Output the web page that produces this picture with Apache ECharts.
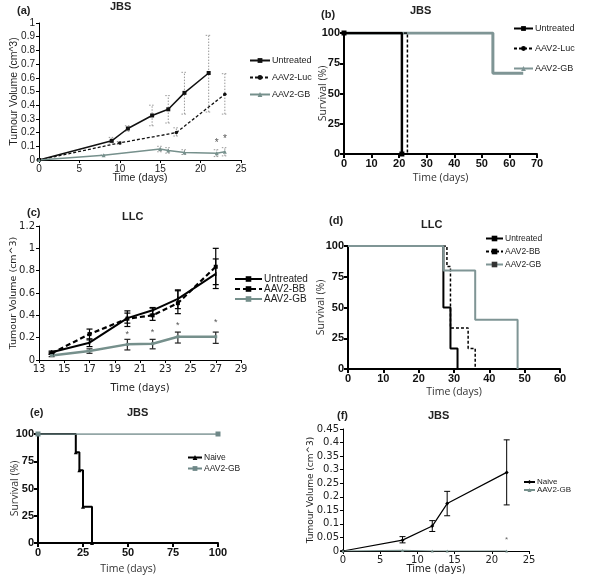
<!DOCTYPE html>
<html><head><meta charset="utf-8">
<script src="https://cdn.jsdelivr.net/npm/echarts@6/dist/echarts.min.js"></script>
<style>html,body{margin:0;padding:0;background:#fff}#c{width:600px;height:577px}</style>
</head><body><div id="c"></div><script>
// ---------- Panel (a) JBS tumour volume ----------
const aUntreatedX = [0, 9, 11, 14, 16, 18, 21];
const aUntreatedY = [0, 0.14, 0.23, 0.325, 0.37, 0.49, 0.635];
const aUntreatedLo = [0, 0.125, 0.21, 0.25, 0.27, 0.335, 0.35];
const aUntreatedHi = [0, 0.165, 0.25, 0.40, 0.47, 0.64, 0.91];
const aLucX = [0, 10, 17, 23];
const aLucY = [0, 0.125, 0.20, 0.48];
const aLucLo = [0, 0.115, 0.175, 0.335];
const aLucHi = [0, 0.135, 0.235, 0.63];
const aGbX = [0, 8, 15, 16, 18, 22, 23];
const aGbY = [0, 0.035, 0.08, 0.07, 0.055, 0.05, 0.06];
const aGbLo = [0, 0.035, 0.06, 0.05, 0.04, 0.025, 0.03];
const aGbHi = [0, 0.035, 0.10, 0.09, 0.075, 0.075, 0.09];
const aStarX = [22, 23];
const aStarY = [0.12, 0.155];

// ---------- Panel (b) JBS survival ----------
const bUntreatedX = [0, 21];
const bUntreatedY = [100, 0];
const bLucX = [0, 23];
const bLucY = [100, 0];
const bGbX = [0, 54, 65];
const bGbY = [100, 66.7, 66.7];

// ---------- Panel (c) LLC tumour volume ----------
const cX = [14, 17, 20, 22, 24, 27];
const cUntreated = [0.07, 0.155, 0.375, 0.445, 0.548, 0.771];
const cUntreatedLo = [0.06, 0.12, 0.30, 0.41, 0.46, 0.64];
const cUntreatedHi = [0.08, 0.19, 0.44, 0.47, 0.62, 1.0];
const cBB = [0.06, 0.232, 0.37, 0.40, 0.509, 0.835];
const cBBLo = [0.05, 0.18, 0.33, 0.355, 0.415, 0.675];
const cBBHi = [0.07, 0.277, 0.42, 0.465, 0.628, 0.905];
const cGB = [0.04, 0.08, 0.14, 0.146, 0.208, 0.208];
const cGBLo = [0.03, 0.06, 0.09, 0.10, 0.152, 0.149];
const cGBHi = [0.05, 0.10, 0.185, 0.185, 0.25, 0.25];
const cStarX = [20, 22, 24, 27];
const cStarY = [0.232, 0.247, 0.31, 0.336];

// ---------- Panel (d) LLC survival ----------
const dUntreatedX = [0, 27, 29, 31];
const dUntreatedY = [100, 50, 16.7, 0];
const dBBX = [0, 28, 29, 34, 36];
const dBBY = [100, 83.3, 33.3, 16.7, 0];
const dGbX = [0, 27, 36, 48];
const dGbY = [100, 80, 40, 0];

// ---------- Panel (e) JBS survival ----------
const eNaiveX = [0, 21, 23, 25, 30];
const eNaiveY = [100, 83.3, 66.7, 33.3, 0];
const eGbX = [0, 100];
const eGbY = [100, 100];

// ---------- Panel (f) JBS tumour volume ----------
const fX = [0, 8, 12, 14, 22];
const fNaive = [0, 0.04, 0.092, 0.175, 0.29];
const fNaiveLo = [0, 0.03, 0.072, 0.13, 0.17];
const fNaiveHi = [0, 0.053, 0.112, 0.22, 0.41];
const fGb = [0, 0.002, 0, 0, 0];
const fStarX = [22];
const fStarY = [0.043];

const GREY = '#76908c';
const SANS = 'Liberation Sans';
const DJ = 'DejaVu Sans';
const TICK = 'path://M0,0h2v12h-2z';

function pts(xs, ys) { return xs.map((x, i) => [x, ys[i]]); }

function line(name, gi, xs, ys, o) {
  return Object.assign({
    type: 'line', name: name, xAxisIndex: gi, yAxisIndex: gi,
    data: pts(xs, ys), animation: false, z: 3
  }, o);
}
function errorBars(gi, xs, lo, hi, color, dash, cap, w) {
  return {
    type: 'custom', xAxisIndex: gi, yAxisIndex: gi, silent: true, z: 2,
    data: xs.map((x, i) => [x, lo[i], hi[i]]),
    renderItem: function (p, api) {
      const x = api.value(0);
      const a = api.coord([x, api.value(1)]);
      const b = api.coord([x, api.value(2)]);
      const st = { stroke: color, lineWidth: w || 1, lineDash: dash || null, fill: null };
      return { type: 'group', children: [
        { type: 'line', shape: { x1: a[0], y1: a[1], x2: b[0], y2: b[1] }, style: st },
        { type: 'line', shape: { x1: a[0] - cap, y1: a[1], x2: a[0] + cap, y2: a[1] }, style: st },
        { type: 'line', shape: { x1: b[0] - cap, y1: b[1], x2: b[0] + cap, y2: b[1] }, style: st }
      ] };
    }
  };
}
function stars(gi, xs, ys, color, size) {
  return {
    type: 'custom', xAxisIndex: gi, yAxisIndex: gi, silent: true, z: 4,
    data: pts(xs, ys),
    renderItem: function (p, api) {
      const c = api.coord([api.value(0), api.value(1)]);
      return { type: 'text', x: c[0], y: c[1], style: { text: '*', fill: color, font: size + 'px ' + SANS, align: 'center', verticalAlign: 'middle' } };
    }
  };
}

function excelAxis(gi, min, max, interval, family, fs, name, gap, nfs) {
  return {
    type: 'value', gridIndex: gi, min: min, max: max, interval: interval,
    axisLine: { show: true, onZero: false, lineStyle: { color: '#000', width: 1 } },
    axisTick: { show: true, length: 3, lineStyle: { color: '#000', width: 1 } },
    axisLabel: { color: '#222', fontSize: fs, fontFamily: family, margin: 4, showMinLabel: true, showMaxLabel: true },
    splitLine: { show: false },
    name: name, nameLocation: 'middle', nameGap: gap, nameMoveOverlap: false,
    nameTextStyle: { color: '#222', fontSize: nfs, fontFamily: family }
  };
}
function prismAxis(gi, min, max, interval, name, gap) {
  return {
    type: 'value', gridIndex: gi, min: min, max: max, interval: interval,
    axisLine: { show: true, onZero: false, lineStyle: { color: '#000', width: 2 } },
    axisTick: { show: true, length: 4, lineStyle: { color: '#000', width: 2 } },
    axisLabel: { color: '#111', fontSize: 11, fontWeight: 'bold', fontFamily: SANS, margin: 4, showMinLabel: true, showMaxLabel: true },
    splitLine: { show: false },
    name: name, nameLocation: 'middle', nameGap: gap, nameMoveOverlap: false,
    nameTextStyle: { color: '#333', fontSize: 10.5, fontFamily: 'Open Sans' }
  };
}

const fmt = n => n.split('|')[1];
function legend(names, left, top, gap, iw, ih, fs, family) {
  return {
    data: names, left: left, top: top, orient: 'vertical', itemGap: gap,
    itemWidth: iw, itemHeight: ih, selectedMode: false, padding: 0,
    formatter: fmt,
    textStyle: { fontSize: fs, fontFamily: family, color: '#222', padding: [0, 0, 0, -3] }
  };
}

function title(t, x, y, fs) {
  return { type: 'text', x: x, y: y, style: { text: t, font: 'bold ' + (fs || 11) + 'px ' + SANS, fill: '#222', align: 'left', verticalAlign: 'middle' } };
}

const option = {
  animation: false,
  backgroundColor: '#fff',
  grid: [
    { left: 39, top: 23, width: 202, height: 137 },
    { left: 344, top: 33, width: 193, height: 121 },
    { left: 39, top: 226, width: 202, height: 134 },
    { left: 348, top: 246, width: 212, height: 123 },
    { left: 38, top: 434, width: 180, height: 109 },
    { left: 343, top: 429, width: 186, height: 122 }
  ],
  xAxis: [
    excelAxis(0, 0, 25, 5, SANS, 10, 'Time (days)', 13, 10.5),
    prismAxis(1, 0, 70, 10, 'Time (days)', 19),
    excelAxis(2, 13, 29, 2, DJ, 10, 'Time (days)', 23, 10),
    prismAxis(3, 0, 60, 10, 'Time (days)', 18),
    prismAxis(4, 0, 100, 25, 'Time (days)', 21),
    excelAxis(5, 0, 25, 5, DJ, 10, 'Time (days)', 13, 10)
  ],
  yAxis: [
    excelAxis(0, 0, 1, 0.1, SANS, 10, 'Tumour Volume (cm^3)', 19, 10.5),
    prismAxis(1, 0, 100, 25, 'Survival (%)', 15),
    excelAxis(2, 0, 1.2, 0.2, DJ, 10, 'Tumour Volume (cm^3)', 20, 9.5),
    prismAxis(3, 0, 100, 25, 'Survival (%)', 21),
    prismAxis(4, 0, 100, 25, 'Survival (%)', 17),
    excelAxis(5, 0, 0.45, 0.05, DJ, 10, 'Tumour Volume (cm^3)', 28, 9)
  ],
  legend: [
    legend(['a|Untreated', 'a|AAV2-Luc', 'a|AAV2-GB'], 249, 56, 8, 20, 6, 9, SANS),
    legend(['b|Untreated', 'b|AAV2-Luc', 'b|AAV2-GB'], 513, 24, 11, 19, 6, 9, SANS),
    legend(['c|Untreated', 'c|AAV2-BB', 'c|AAV2-GB'], 234, 274, 0, 27, 7, 10, SANS),
    legend(['d|Untreated', 'd|AAV2-BB', 'd|AAV2-GB'], 485, 234, 4, 17, 7, 8.5, SANS),
    legend(['e|Naive', 'e|AAV2-GB'], 187, 453, 2, 14, 6, 8.5, SANS),
    legend(['f|Naive', 'f|AAV2-GB'], 523, 478, 0, 11, 5, 8, SANS)
  ],
  graphic: [
    title('(a)', 17, 11), title('JBS', 110, 7),
    title('(b)', 321, 15), title('JBS', 410, 11),
    title('(c)', 27, 213), title('LLC', 122, 217),
    title('(d)', 329, 221), title('LLC', 421, 225),
    title('(e)', 30, 413), title('JBS', 127, 413),
    title('(f)', 337, 416), title('JBS', 428, 416)
  ],
  series: [
    // (a)
    errorBars(0, aUntreatedX, aUntreatedLo, aUntreatedHi, '#999', [1.5, 1.5], 3),
    errorBars(0, aLucX, aLucLo, aLucHi, '#999', [1.5, 1.5], 3),
    errorBars(0, aGbX, aGbLo, aGbHi, '#999', [1.5, 1.5], 3),
    line('a|Untreated', 0, aUntreatedX, aUntreatedY, { symbol: 'rect', symbolSize: 4, lineStyle: { color: '#111', width: 1.5 }, itemStyle: { color: '#111' } }),
    line('a|AAV2-Luc', 0, aLucX, aLucY, { symbol: 'circle', symbolSize: 3.5, lineStyle: { color: '#111', width: 1.3, type: [3, 2] }, itemStyle: { color: '#111' } }),
    line('a|AAV2-GB', 0, aGbX, aGbY, { symbol: 'triangle', symbolSize: 4, lineStyle: { color: GREY, width: 1.5 }, itemStyle: { color: GREY } }),
    stars(0, aStarX, aStarY, '#555', 10),
    // (b)
    line('b|Untreated', 1, bUntreatedX, bUntreatedY, { z: 6, step: 'end', symbol: 'rect', symbolSize: 5, lineStyle: { color: '#000', width: 2.5 }, itemStyle: { color: '#000' } }),
    line('b|AAV2-Luc', 1, bLucX, bLucY, { z: 5, step: 'end', symbol: 'circle', symbolSize: 3, showSymbol: false, lineStyle: { color: '#000', width: 1.5, type: [3, 2] }, itemStyle: { color: '#000' } }),
    line('b|AAV2-GB', 1, bGbX, bGbY, { z: 3, step: 'end', symbol: 'triangle', symbolSize: 3, showSymbol: false, lineStyle: { color: '#7f9595', width: 3 }, itemStyle: { color: '#7f9595' } }),
    // (c)
    errorBars(2, cX, cUntreatedLo, cUntreatedHi, '#000', null, 3, 1.2),
    errorBars(2, cX, cBBLo, cBBHi, '#000', null, 3, 1.2),
    errorBars(2, cX, cGBLo, cGBHi, '#222', null, 3, 1.2),
    line('c|Untreated', 2, cX, cUntreated, { symbol: 'rect', symbolSize: [1.5, 4], lineStyle: { color: '#000', width: 2 }, itemStyle: { color: '#000' } }),
    line('c|AAV2-BB', 2, cX, cBB, { symbol: 'rect', symbolSize: 4, lineStyle: { color: '#000', width: 2.2, type: [5, 3] }, itemStyle: { color: '#000' } }),
    line('c|AAV2-GB', 2, cX, cGB, { symbol: 'rect', symbolSize: 3, lineStyle: { color: GREY, width: 2.5 }, itemStyle: { color: GREY } }),
    stars(2, cStarX, cStarY, '#555', 9),
    // (d)
    line('d|Untreated', 3, dUntreatedX, dUntreatedY, { step: 'end', symbol: TICK, symbolKeepAspect: true, symbolSize: [2, 8], showSymbol: false, lineStyle: { color: '#000', width: 2 }, itemStyle: { color: '#000' } }),
    line('d|AAV2-BB', 3, dBBX, dBBY, { step: 'end', symbol: TICK, symbolKeepAspect: true, symbolSize: [2, 8], showSymbol: false, lineStyle: { color: '#000', width: 1.5, type: [3, 2] }, itemStyle: { color: '#000' } }),
    line('d|AAV2-GB', 3, dGbX, dGbY, { step: 'end', symbol: TICK, symbolKeepAspect: true, symbolSize: [2, 8], showSymbol: false, lineStyle: { color: '#7f9595', width: 2 }, itemStyle: { color: '#333' } }),
    // (e)
    line('e|Naive', 4, eNaiveX, eNaiveY, { step: 'end', symbol: 'triangle', symbolSize: 4, lineStyle: { color: '#000', width: 2 }, itemStyle: { color: '#000' } }),
    line('e|AAV2-GB', 4, eGbX, eGbY, { step: 'end', symbol: 'rect', symbolSize: 5, lineStyle: { color: '#6f8888', width: 1.5 }, itemStyle: { color: '#6f8888' } }),
    // (f)
    errorBars(5, fX, fNaiveLo, fNaiveHi, '#000', null, 3, 1),
    line('f|Naive', 5, fX, fNaive, { symbol: 'diamond', symbolSize: 4, lineStyle: { color: '#000', width: 1.2 }, itemStyle: { color: '#000' } }),
    line('f|AAV2-GB', 5, fX, fGb, { symbol: 'triangle', symbolSize: 3, lineStyle: { color: GREY, width: 1.2 }, itemStyle: { color: GREY } }),
    stars(5, fStarX, fStarY, '#666', 8)
  ]
};
const chart = echarts.init(document.getElementById('c'), null, { renderer: 'canvas' });
chart.setOption(option);
</script></body></html>
